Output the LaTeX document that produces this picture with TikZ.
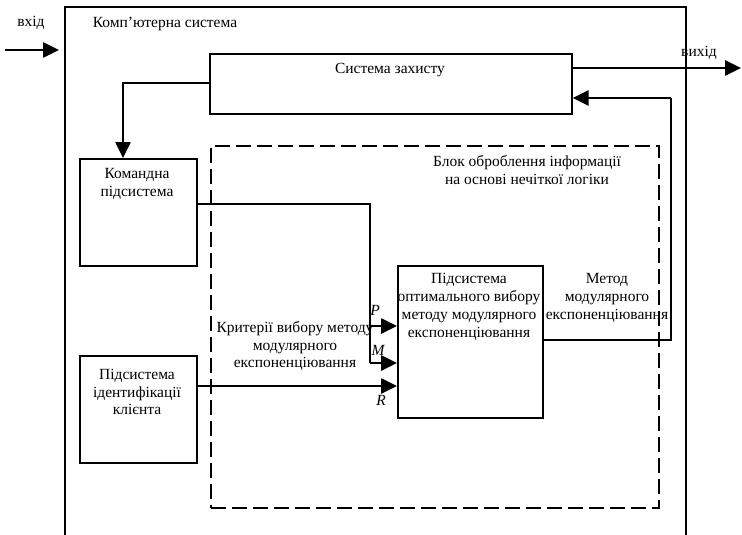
\documentclass[tikz,border=0pt]{standalone}
\usepackage{fontspec}
\setmainfont{Liberation Serif}
\usetikzlibrary{arrows.meta}
\begin{document}
\begin{tikzpicture}[x=1pt,y=-1pt,
  box/.style={draw, line width=1.7pt, inner sep=0pt, anchor=north west},
  dashbox/.style={draw, line width=1.7pt, dash pattern=on 15pt off 6pt, inner sep=0pt, anchor=north west},
  txt/.style={font=\fontsize{15.5}{17.8}\selectfont, align=center, inner sep=0pt},
  lbl/.style={font=\fontsize{15.5}{17.8}\selectfont\itshape, inner sep=0pt},
  thickarrow/.style={line width=2.6pt, -{Triangle[length=16pt,width=15pt]}},
  thinline/.style={line width=1.4pt},
  medline/.style={line width=2pt}
]
\useasboundingbox (0,0) rectangle (742,535);
% outer system frame (open at the bottom)
\draw[line width=1.9pt] (65,535) -- (65,7) -- (686,7) -- (686,535);
% boxes
\node[box, minimum width=362, minimum height=60] (zah) at (209,53) {};
\node[box, minimum width=117, minimum height=107] (kom) at (79,158) {};
\node[box, minimum width=117, minimum height=107] (ident) at (79,355) {};
\node[box, minimum width=145, minimum height=152] (opt) at (397,265) {};
\node[dashbox, minimum width=448, minimum height=362] (blk) at (210,145) {};
% texts
\node[txt] (vkhid) at (31,23) {вхід};
\node[txt] (vykhid) at (699,53) {вихід};
\node[txt] (ks) at (165,24) {Комп’ютерна система};
\node[txt] (zahT) at (390,70) {Система захисту};
\node[txt] (blkT) at (527,170) {Блок оброблення інформації\\на основі нечіткої логіки};
\node[txt] (komT) at (137,184) {Командна\\підсистема};
\node[txt] (identT) at (137,392) {Підсистема\\ідентифікації\\клієнта};
\node[txt] (critT) at (295,346) {Критерії вибору методу\\модулярного\\експоненціювання};
\node[txt] (optT) at (469,307) {Підсистема\\оптимального вибору\\методу модулярного\\експоненціювання};
\node[txt] (methT) at (607,298) {Метод\\модулярного\\експоненціювання};
\node[lbl] (pL) at (375,310) {P};
\node[lbl] (mL) at (378,350) {M};
\node[lbl] (rL) at (381,400) {R};
% coordinates
\coordinate (inS) at (5,50);
\coordinate (inE) at (59,50);
\coordinate (outE) at (741,68);
\coordinate (fb) at (671,98);
\coordinate (mo) at (671,340);
\coordinate (c1) at (123,83);
\coordinate (pm) at (370,204);
\coordinate (pS) at (370,326);
\coordinate (mS) at (370,363);
\coordinate (rY) at (0,386);
% connectors
\draw[thickarrow] (inS) -- (inE);
\draw[thickarrow] (zah.east |- outE) -- (outE);
\draw[medline] (opt.east |- mo) -- (mo) -- (fb);
\draw[thickarrow] (fb) -- (zah.east |- fb);
\draw[thickarrow] (zah.west |- c1) -- (c1) -- (c1 |- kom.north);
\draw[thinline] (kom.east |- pm) -- (pm) -- (mS);
\draw[thickarrow] (pS) -- (opt.west |- pS);
\draw[thickarrow] (mS) -- (opt.west |- mS);
\draw[thickarrow] (ident.east |- rY) -- (opt.west |- rY);
\end{tikzpicture}
\end{document}
